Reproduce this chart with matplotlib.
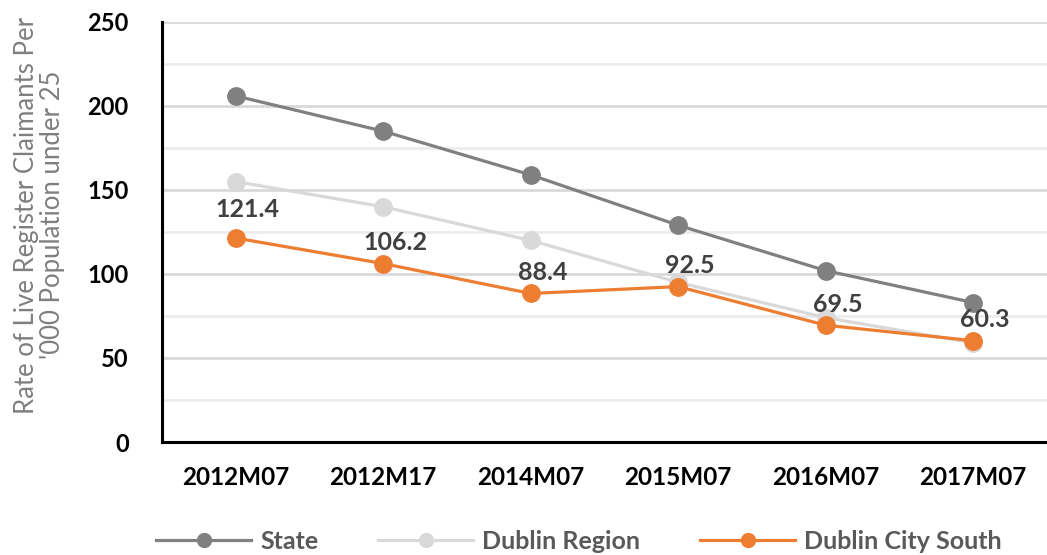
import numpy as np
import matplotlib.pyplot as plt

periods = ['2012M07', '2012M17', '2014M07', '2015M07', '2016M07', '2017M07']
state = [206, 185, 159, 129, 102, 83]
dublin_region = [155, 140, 120, 95, 74, 59]
dublin_city_south = [121.4, 106.2, 88.4, 92.5, 69.5, 60.3]

plt.rcParams['font.family'] = ['Lato', 'DejaVu Sans']

fig = plt.figure(figsize=(10.47, 5.55), dpi=100)
ax = fig.add_axes([0.1547, 0.2036, 0.8453, 0.7568])

x = np.arange(len(periods))
ms = 12.5
lw = 2.3
ax.plot(x, state, color='#808080', lw=lw, marker='o', ms=ms, label='State', zorder=3)
ax.plot(x, dublin_region, color='#d9d9d9', lw=lw, marker='o', ms=ms, label='Dublin Region', zorder=4)
ax.plot(x, dublin_city_south, color='#ed7d31', lw=lw, marker='o', ms=ms, label='Dublin City South', zorder=5)

# data labels on the Dublin City South series
for xi, v in zip(x, dublin_city_south):
    dy = 29 if v > 110 else 21
    ax.annotate(f'{v:.1f}', (xi, v), xytext=(12, dy), textcoords='offset pixels',
                ha='center', va='center', fontsize=18, fontweight='bold', color='#404040', zorder=6)

ax.set_xlim(-0.5, 5.5)
ax.set_ylim(0, 250)
ax.set_yticks(np.arange(0, 251, 50))
ax.set_yticks(np.arange(25, 250, 50), minor=True)
ax.set_xticks(x)
ax.set_xticklabels(periods)

ax.grid(axis='y', which='major', color='#d9d9d9', lw=2)
ax.grid(axis='y', which='minor', color='#ececec', lw=2)
ax.set_axisbelow(True)

for s in ['top', 'right']:
    ax.spines[s].set_visible(False)
ax.spines['left'].set_linewidth(2.2)
ax.spines['bottom'].set_linewidth(2.2)
ax.spines['left'].set_color('black')
ax.spines['bottom'].set_color('black')

ax.tick_params(axis='both', which='both', length=0)
ax.tick_params(axis='y', pad=24, labelsize=17)
ax.tick_params(axis='x', pad=17, labelsize=17.5)
for lab in ax.get_xticklabels() + ax.get_yticklabels():
    lab.set_fontweight('bold')

ax.set_ylabel("Rate of Live Register Claimants Per\n'000 Population under 25",
              fontsize=18.5, color='#7f7f7f', linespacing=1.05, multialignment='center')
ax.yaxis.set_label_coords(-0.11, 0.54)

leg = fig.legend(loc='center', bbox_to_anchor=(0.553, 0.025), ncol=3, frameon=False,
                 fontsize=18, handlelength=3.8, handletextpad=0.35, columnspacing=2.4,
                 markerscale=0.8)
for t in leg.get_texts():
    t.set_fontweight('bold')
    t.set_color('#595959')

fig.savefig('out.png', dpi=100)
